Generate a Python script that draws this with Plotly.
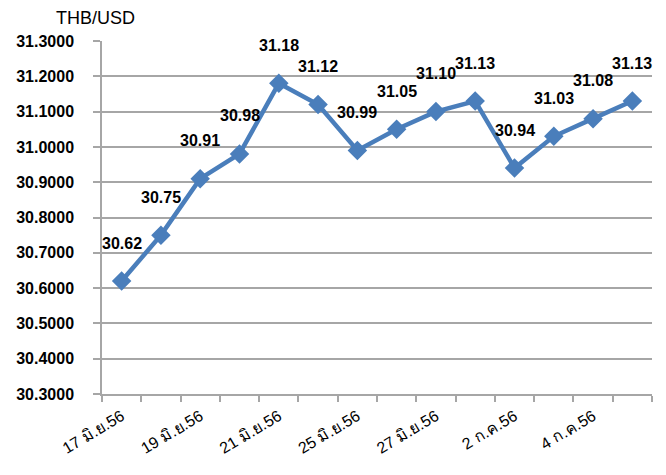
import plotly.graph_objects as go

categories = ["17 มิ.ย.56", "18 มิ.ย.56", "19 มิ.ย.56", "20 มิ.ย.56", "21 มิ.ย.56",
              "24 มิ.ย.56", "25 มิ.ย.56", "26 มิ.ย.56", "27 มิ.ย.56", "28 มิ.ย.56",
              "1 ก.ค.56", "2 ก.ค.56", "3 ก.ค.56", "4 ก.ค.56"]
rates = [30.62, 30.75, 30.91, 30.98, 31.18, 31.12, 30.99, 31.05, 31.10, 31.13,
         30.94, 31.03, 31.08, 31.13]
tick_labels = ["17 มิ.ย.56", "", "19 มิ.ย.56", "", "21 มิ.ย.56", "", "25 มิ.ย.56", "",
               "27 มิ.ย.56", "", "2 ก.ค.56", "", "4 ก.ค.56", ""]

LINE = "#4A7EBB"
GRID = "#A6A6A6"
FONT = "Liberation Sans, Arial, sans-serif"

fig = go.Figure()
fig.add_trace(go.Scatter(
    x=categories, y=rates, mode="lines+markers",
    line=dict(color=LINE, width=4.5),
    marker=dict(symbol="diamond", size=15, color=LINE),
    hoverinfo="skip", showlegend=False,
))

for c, v in zip(categories, rates):
    fig.add_annotation(x=c, y=v, text=f"{v:.2f}", showarrow=False, yshift=38,
                       font=dict(family=FONT, size=16, color="#000000", weight="bold"))

fig.add_annotation(xref="paper", yref="paper", x=-0.011, y=1.065, text="THB/USD",
                   showarrow=False, xanchor="center", yanchor="middle",
                   font=dict(family=FONT, size=18, color="#000000"))

fig.update_layout(
    width=666, height=475,
    margin=dict(l=102, r=14, t=41, b=81),
    paper_bgcolor="white", plot_bgcolor="white",
    font=dict(family=FONT, color="#000000"),
)
fig.update_xaxes(
    type="category", tickmode="array", tickvals=categories, ticktext=tick_labels,
    tickson="boundaries", ticks="outside", ticklen=6, tickcolor=GRID, tickwidth=1.5,
    showline=True, linecolor=GRID, linewidth=1.5, showgrid=False,
    tickangle=-31, tickfont=dict(family=FONT, size=16, color="#000000"),
    range=[-0.5, len(categories) - 0.5], ticklabelstandoff=5,
)
fig.update_yaxes(
    range=[30.3, 31.3], dtick=0.1, tick0=30.3, tickformat=".4f",
    ticks="outside", ticklen=7, tickcolor=GRID, tickwidth=1.5,
    showline=True, linecolor=GRID, linewidth=1.5,
    showgrid=True, gridcolor=GRID, gridwidth=1.5, zeroline=False,
    tickfont=dict(family=FONT, size=16, color="#000000", weight="bold"),
    ticklabelstandoff=16,
)

fig.write_html("out.html", config={"responsive": False, "displayModeBar": False},
               post_script="document.body.style.margin='0';document.body.style.overflow='hidden';")
